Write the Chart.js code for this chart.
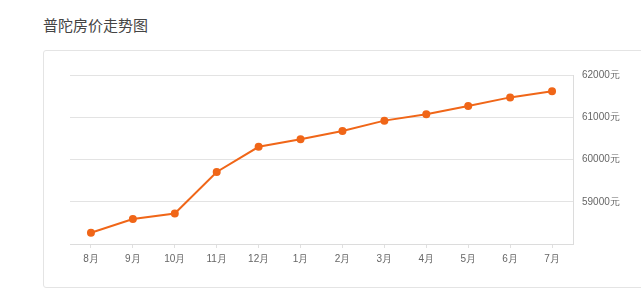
<!DOCTYPE html>
<html>
<head>
<meta charset="utf-8">
<script src="https://cdn.jsdelivr.net/npm/chart.js@4"></script>
<style>
    html, body { margin: 0; padding: 0; background: #fff; }
    body { width: 641px; height: 302px; position: relative; overflow: hidden; font-family: "Noto Sans CJK SC", "Noto Sans", sans-serif; }
    .title { position: absolute; left: 43px; top: 14px; font-size: 15px; color: #444; }
    .box { position: absolute; left: 43px; top: 50px; width: 640px; height: 236px; border: 1px solid #e4e4e4; border-radius: 3px; }
    #wrap { position: absolute; left: 0; top: 0; width: 641px; height: 302px; }
</style>
</head>
<body>
<div class="title">普陀房价走势图</div>
<div class="box"></div>
<div id="wrap"><canvas id="priceChart"></canvas></div>
<script>
const months = ['8月', '9月', '10月', '11月', '12月', '1月', '2月', '3月', '4月', '5月', '6月', '7月'];
const prices = [58265, 58590, 58720, 59705, 60300, 60480, 60675, 60920, 61070, 61265, 61470, 61615];
const yTicks = [58000, 59000, 60000, 61000, 62000];

const orange = 'rgb(240, 102, 24)';

const ctx = document.getElementById('priceChart').getContext('2d');
let priceChart = new Chart(ctx, {
    type: 'line',
    data: {
        labels: months,
        datasets: [{
            data: prices,
            borderColor: orange,
            backgroundColor: orange,
            borderWidth: 2,
            pointRadius: 3,
            pointHoverRadius: 3,
            tension: 0
        }]
    },
    options: {
        responsive: true,
        maintainAspectRatio: false,
        animation: false,
        layout: {
            padding: { left: 70, top: 75, right: 0, bottom: 28 }
        },
        plugins: {
            legend: { display: false },
            tooltip: { enabled: false }
        },
        scales: {
            x: {
                offset: true,
                grid: { drawOnChartArea: false, drawTicks: true, tickLength: 4, color: '#e0e0e0' },
                border: { color: '#dcdcdc' },
                ticks: { color: '#666', font: { size: 10 }, padding: 5, maxRotation: 0 },
                afterFit: scale => { scale.height = 30; }
            },
            y: {
                position: 'right',
                min: yTicks[0],
                max: yTicks[yTicks.length - 1],
                afterBuildTicks: scale => { scale.ticks = yTicks.map(v => ({ value: v })); },
                grid: { color: '#e3e3e3', drawTicks: false },
                border: { color: '#dcdcdc' },
                ticks: {
                    color: '#666',
                    font: { size: 10 },
                    padding: 9,
                    callback: v => v === yTicks[0] ? '' : v + '元'
                },
                afterFit: scale => { scale.width = 68; }
            }
        }
    }
});
</script>
</body>
</html>
